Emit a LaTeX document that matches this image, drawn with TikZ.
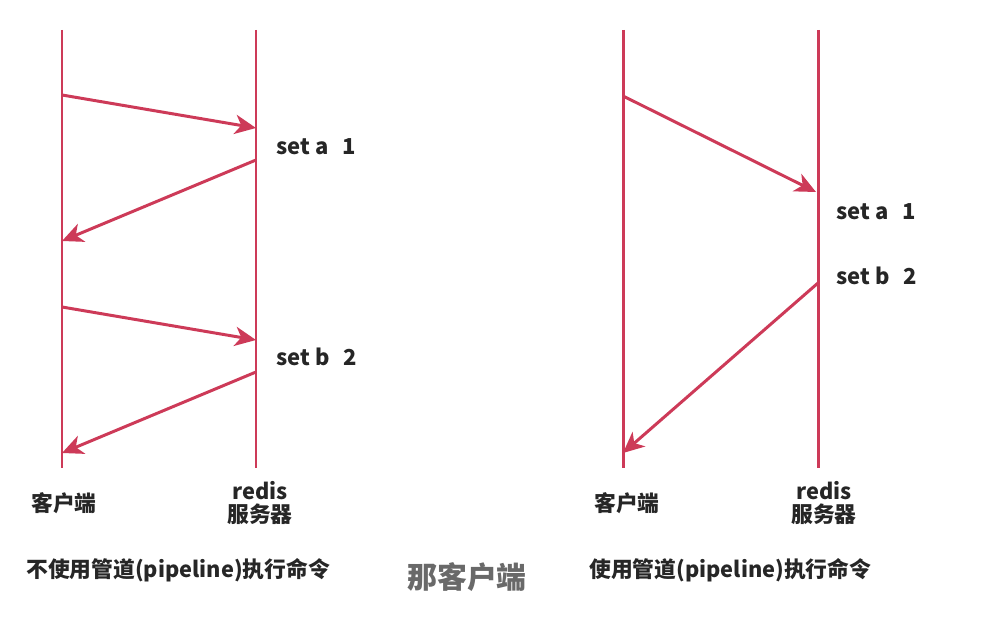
\documentclass[tikz,border=0pt]{standalone}
\usepackage{fontspec}
\setmainfont{Noto Sans CJK SC}
\usetikzlibrary{arrows.meta}
\definecolor{lifered}{RGB}{205,58,88}
\definecolor{subgray}{RGB}{105,105,105}
\tikzset{
  life/.style={draw=lifered, line width=1.7pt},
  msg/.style={draw=lifered, line width=1.7pt, -{Stealth[length=12pt,width=11pt,inset=3.5pt]}},
  lbl/.style={font=\bfseries\fontsize{12.5}{14}\selectfont, text=black!85, inner sep=0pt},
  captext/.style={font=\bfseries\fontsize{12.4}{16}\selectfont, text=black!85, inner sep=0pt, align=center},
}
\begin{document}
\begin{tikzpicture}[x=0.02cm,y=-0.02cm]
\useasboundingbox (0,0) rectangle (1003,617);
% lifelines
\coordinate (lct) at (62,30); \coordinate (lcb) at (62,468);
\coordinate (lst) at (256,30); \coordinate (lsb) at (256,468);
\coordinate (rct) at (623,30); \coordinate (rcb) at (623,468);
\coordinate (rst) at (818,30); \coordinate (rsb) at (818,468);
\draw[life] (lct) -- (lcb);
\draw[life] (lst) -- (lsb);
\draw[life] (rct) -- (rcb);
\draw[life] (rst) -- (rsb);
% left messages
\coordinate (l1s) at (62,95);  \coordinate (l1e) at (256,128);
\coordinate (l2s) at (256,160); \coordinate (l2e) at (62,241);
\coordinate (l3s) at (62,307); \coordinate (l3e) at (256,340);
\coordinate (l4s) at (256,372); \coordinate (l4e) at (62,453);
\draw[msg] (l1s) -- (l1e);
\draw[msg] (l2s) -- (l2e);
\draw[msg] (l3s) -- (l3e);
\draw[msg] (l4s) -- (l4e);
% right messages
\coordinate (r1s) at (623,96);  \coordinate (r1e) at (816,192);
\coordinate (r2s) at (818,283); \coordinate (r2e) at (623,453);
\draw[msg] (r1s) -- (r1e);
\draw[msg] (r2s) -- (r2e);
% labels
\node[lbl, anchor=west] (la) at (276,147) {set a\hspace{0.65em}1};
\node[lbl, anchor=west] (lb) at (276,357) {set b\hspace{0.65em}2};
\node[lbl, anchor=west] (ra) at (836,212) {set a\hspace{0.65em}1};
\node[lbl, anchor=west] (rb) at (836,276) {set b\hspace{0.65em}2};
% bottom names
\node[captext] (lcn) at (64,503) {客户端};
\node[captext] (lsn) at (260,503) {redis\\[-3pt]服务器};
\node[captext] (rcn) at (627,503) {客户端};
\node[captext] (rsn) at (824,503) {redis\\[-3pt]服务器};
\node[captext, anchor=west] (lcap) at (26,570) {不使用管道(pipeline)执行命令};
\node[captext, anchor=west] (rcap) at (589,570) {使用管道(pipeline)执行命令};
\node[font=\bfseries\fontsize{17}{18}\selectfont, text=subgray, inner sep=0pt] (sub) at (467,577) {那客户端};
\end{tikzpicture}
\end{document}
